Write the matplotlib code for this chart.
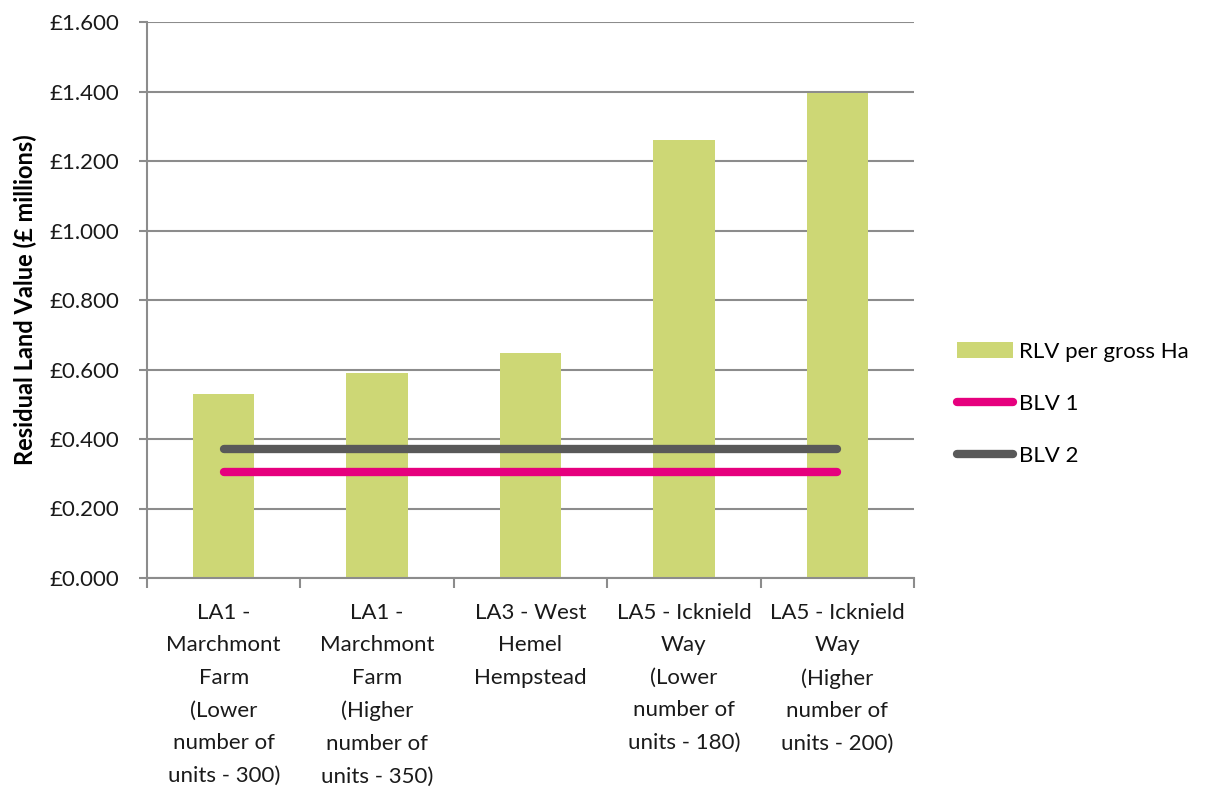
import numpy as np
import matplotlib.pyplot as plt
from matplotlib.ticker import FuncFormatter

# Sites and values (£ millions per gross ha)
sites = [
    "LA1 -\nMarchmont\nFarm\n(Lower\nnumber of\nunits - 300)",
    "LA1 -\nMarchmont\nFarm\n(Higher\nnumber of\nunits - 350)",
    "LA3 - West\nHemel\nHempstead",
    "LA5 - Icknield\nWay\n(Lower\nnumber of\nunits - 180)",
    "LA5 - Icknield\nWay\n(Higher\nnumber of\nunits - 200)",
]
rlv = [0.530, 0.591, 0.647, 1.260, 1.397]
blv1 = [0.306, 0.306, 0.306, 0.306, 0.306]
blv2 = [0.371, 0.371, 0.371, 0.371, 0.371]

plt.rcParams['font.family'] = ['Lato', 'DejaVu Sans']

fig = plt.figure(figsize=(12.09, 7.87), dpi=100)
ax = fig.add_axes([147 / 1209, 1 - 578 / 787, (914 - 147) / 1209, (578 - 22) / 787])

x = np.arange(len(sites))
bars = ax.bar(x, rlv, width=0.4, color='#CDD775', zorder=2)
l1, = ax.plot(x, blv1, color='#E6007E', lw=6, solid_capstyle='round', zorder=3)
l2, = ax.plot(x, blv2, color='#595959', lw=6, solid_capstyle='round', zorder=3)

ax.set_xlim(-0.5, len(sites) - 0.5)
ax.set_ylim(0, 1.6)
ax.set_yticks(np.arange(0, 1.61, 0.2))
ax.yaxis.set_major_formatter(FuncFormatter(lambda v, p: f"£{v:.3f}"))
ax.grid(axis='y', color='#8C8C8C', lw=1.5, zorder=0)

# category ticks sit between the bars
ax.set_xticks(np.arange(-0.5, len(sites), 1.0))
ax.set_xticklabels([])
ax.set_xticks(x, minor=True)
ax.set_xticklabels(sites, minor=True, fontsize=16, linespacing=1.78, color='#1A1A1A')
ax.tick_params(axis='x', which='minor', length=0, pad=18)
ax.tick_params(axis='x', which='major', length=7, color='#8C8C8C', width=1.5)
ax.tick_params(axis='y', length=6, color='#8C8C8C', width=1.5, labelsize=16,
               labelcolor='#1A1A1A', pad=14)

for side in ['top', 'right']:
    ax.spines[side].set_visible(False)
for side in ['left', 'bottom']:
    ax.spines[side].set_color('#8C8C8C')
    ax.spines[side].set_linewidth(1.5)

ax.set_ylabel('Residual Land Value (£ millions)', fontsize=17, fontweight='bold')
ax.yaxis.set_label_coords(-0.143, 0.5)

ax.legend([bars, l1, l2], ['RLV per gross Ha', 'BLV 1', 'BLV 2'],
          loc='upper left', bbox_to_anchor=(937 / 1209, 1 - 322 / 787),
          bbox_transform=fig.transFigure, frameon=False, fontsize=16,
          handlelength=2.5, handleheight=0.75, handletextpad=0.3, labelspacing=1.45)

fig.savefig('out.png', dpi=100)
